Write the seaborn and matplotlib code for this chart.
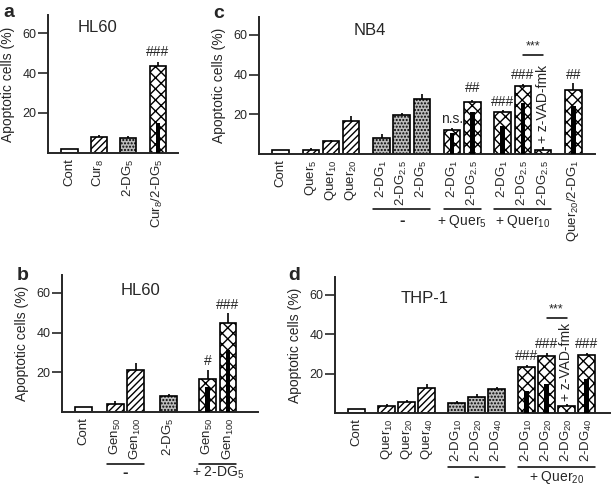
import matplotlib
matplotlib.use('Agg')
import matplotlib.pyplot as plt
import matplotlib.transforms as mtransforms
import seaborn as sns
import numpy as np
import pandas as pd

nan = np.nan

# ---- a: HL60, curcumin + 2-DG ----
a_labels = ['Cont', 'Cur$_8$', '2-DG$_5$', 'Cur$_8$/2-DG$_5$']
a_kind = ['cont', 'drug', 'dg', 'combo']
a_groups = [1, 1, 1, 1]
a_mean = [2.2, 8.0, 7.7, 43.3]
a_err = [0.0, 0.8, 1.0, 2.2]
a_inner = [nan, nan, nan, 15.0]
a_marks = [(3, '###', 50.5)]

# ---- b: HL60, genistein + 2-DG ----
b_labels = ['Cont', 'Gen$_{50}$', 'Gen$_{100}$', '2-DG$_5$', 'Gen$_{50}$', 'Gen$_{100}$']
b_kind = ['cont', 'drug', 'drug', 'dg', 'combo', 'combo']
b_groups = [1, 2, 1, 2]
b_mean = [2.3, 4.2, 21.3, 8.2, 16.6, 44.9]
b_err = [0.0, 1.2, 3.4, 1.0, 4.4, 5.0]
b_inner = [nan, nan, nan, nan, 12.4, 31.0]
b_marks = [(4, '#', 25.5), (5, '###', 54.0)]
b_under = [(1, 2, '-'), (4, 5, '+ 2-DG$_5$')]

# ---- c: NB4, quercetin + 2-DG ----
c_labels = ['Cont', 'Quer$_5$', 'Quer$_{10}$', 'Quer$_{20}$',
            '2-DG$_1$', '2-DG$_{2.5}$', '2-DG$_5$',
            '2-DG$_1$', '2-DG$_{2.5}$',
            '2-DG$_1$', '2-DG$_{2.5}$', '2-DG$_{2.5}$',
            'Quer$_{20}$/2-DG$_1$']
c_kind = ['cont', 'drug', 'drug', 'drug', 'dg', 'dg', 'dg',
          'combo', 'combo', 'combo', 'combo', 'combo', 'combo']
c_groups = [1, 3, 3, 2, 3, 1]
c_mean = [2.0, 2.0, 6.6, 16.4, 8.0, 19.5, 27.5, 12.2, 26.1, 21.2, 34.2, 2.2, 32.4]
c_err = [0.0, 1.0, 0.7, 2.6, 2.2, 1.3, 2.7, 1.0, 0.9, 1.0, 1.1, 1.2, 3.6]
c_inner = [nan, nan, nan, nan, nan, nan, nan, 10.7, 21.2, 14.0, 25.9, nan, 24.2]
c_marks = [(7, 'n.s.', 17.8), (8, '##', 33.0), (9, '###', 26.0), (10, '###', 40.0), (12, '##', 40.0)]
c_under = [(4, 6, '-'), (7, 8, '+ Quer$_5$'), (9, 11, '+ Quer$_{10}$')]
c_star = (10, 11, '***', 50.0)
c_zvad = 11

# ---- d: THP-1, quercetin + 2-DG ----
d_labels = ['Cont', 'Quer$_{10}$', 'Quer$_{20}$', 'Quer$_{40}$',
            '2-DG$_{10}$', '2-DG$_{20}$', '2-DG$_{40}$',
            '2-DG$_{10}$', '2-DG$_{20}$', '2-DG$_{20}$', '2-DG$_{40}$']
d_kind = ['cont', 'drug', 'drug', 'drug', 'dg', 'dg', 'dg',
          'combo', 'combo', 'combo', 'combo']
d_groups = [1, 3, 3, 4]
d_mean = [1.9, 3.4, 5.4, 12.6, 5.0, 7.9, 12.4, 23.2, 29.1, 3.7, 29.2]
d_err = [0.0, 1.0, 1.0, 1.9, 0.9, 1.7, 1.0, 1.0, 1.2, 1.0, 1.2]
d_inner = [nan, nan, nan, nan, nan, nan, nan, 11.4, 14.5, nan, 17.0]
d_marks = [(7, '###', 28.7), (8, '###', 34.8), (10, '###', 34.8)]
d_under = [(4, 6, '-'), (7, 10, '+ Quer$_{20}$')]
d_star = (8, 9, '***', 48.4)
d_zvad = 9

# ---- styles ----
FILL = {'cont': 'white', 'drug': 'white', 'dg': '#bdbdbd', 'combo': 'white'}
HATCH = {'cont': '', 'drug': '/////', 'dg': '.....', 'combo': 'xxx'}
BAR_W = 0.82
INNER_W = 0.22
W, H = 612, 487

sns.set_style('ticks')
plt.rcParams['font.family'] = ['Liberation Sans', 'DejaVu Sans']
plt.rcParams['mathtext.fontset'] = 'custom'
plt.rcParams['mathtext.rm'] = 'Liberation Sans'
plt.rcParams['mathtext.it'] = 'Liberation Sans:italic'
plt.rcParams['mathtext.bf'] = 'Liberation Sans:bold'
plt.rcParams['hatch.linewidth'] = 1.0


def bar_positions(groups, gaps):
    pos, x = [], 0.0
    for g, n in enumerate(groups):
        if g:
            x += gaps[g - 1]
        for _ in range(n):
            pos.append(x)
            x += 1
    return np.array(pos)


def native_w(pos):
    u = np.unique(pos)
    return np.min(np.diff(u)) if len(u) > 1 else 1.0


def make_axes(fig, left, right, base, top, c0, slot):
    ax = fig.add_axes([left / W, 1 - base / H, (right - left) / W, (base - top) / H])
    ax.set_xlim((left - c0) / slot, (right - c0) / slot)
    return ax


def draw_panel(ax, labels, kind, groups, mean, err, inner, gaps, title, title_xy):
    pos = bar_positions(groups, gaps)
    df = pd.DataFrame({'pos': pos, 'mean': mean})
    n0 = len(ax.patches)
    sns.barplot(data=df, x='pos', y='mean', native_scale=True,
                width=BAR_W / native_w(pos), color='white', edgecolor='black',
                linewidth=1.2, errorbar=None, ax=ax, zorder=2)
    for p, k in zip(ax.patches[n0:], kind):
        p.set_facecolor(FILL[k])
        p.set_hatch(HATCH[k])

    inner = np.array(inner)
    keep = ~np.isnan(inner)
    df_in = pd.DataFrame({'pos': pos[keep], 'val': inner[keep]})
    sns.barplot(data=df_in, x='pos', y='val', native_scale=True,
                width=INNER_W / native_w(pos[keep]), color='black',
                linewidth=0, errorbar=None, ax=ax, zorder=3)

    err = np.array(err)
    has = err > 0
    ax.errorbar(pos[has], np.array(mean)[has], yerr=[np.zeros(has.sum()), err[has]],
                fmt='none', ecolor='black', elinewidth=1.2, capsize=0, zorder=4)

    ax.set_ylim(0, 69)
    ax.set_yticks([20, 40, 60])
    ax.set_xticks(pos)
    ax.set_xticklabels(labels, rotation=90, va='top', ha='center', fontsize=9.5)
    ax.tick_params(axis='x', length=0, pad=4)
    ax.tick_params(axis='y', length=7, width=1.2, pad=1.5, labelsize=9)
    ax.set_xlabel('')
    ax.set_ylabel('Apoptotic cells (%)', fontsize=10)
    ax.yaxis.set_label_coords(-33 / (ax.get_position().width * W), 0.5)
    for s in ['top', 'right']:
        ax.spines[s].set_visible(False)
    for s in ['left', 'bottom']:
        ax.spines[s].set_linewidth(1.4)
    ax.text(title_xy[0], title_xy[1], title, ha='center', va='center', fontsize=12)
    return pos


def add_marks(ax, pos, marks):
    for i, t, y in marks:
        ax.text(pos[i], y, t, ha='center', va='center', fontsize=10)


def add_under(fig, ax, pos, under, line_px, text_px):
    half = BAR_W / 2
    for i, j, t in under:
        tl = mtransforms.offset_copy(ax.get_xaxis_transform(), fig=fig, y=-line_px, units='dots')
        ax.plot([pos[i] - half, pos[j] + half], [0, 0], color='black', lw=1.1,
                transform=tl, clip_on=False)
        tt = mtransforms.offset_copy(ax.get_xaxis_transform(), fig=fig, y=-text_px, units='dots')
        if t == '-':
            ax.text((pos[i] + pos[j]) / 2, 0, t, ha='center', va='center', fontsize=12,
                    fontweight='bold', transform=tt)
        else:
            ax.text((pos[i] + pos[j]) / 2, 0, t, ha='center', va='center', fontsize=10,
                    transform=tt)


def add_star(ax, pos, star, zvad, zvad_y):
    i, j, t, y = star
    ax.plot([pos[i], pos[j]], [y, y], color='black', lw=1.1, clip_on=False)
    ax.text((pos[i] + pos[j]) / 2, y + 1.0, t, ha='center', va='bottom', fontsize=9)
    ax.text(pos[zvad], zvad_y, '+ z-VAD-fmk', rotation=90, ha='center', va='bottom',
            fontsize=10)


fig = plt.figure(figsize=(W / 100, H / 100), dpi=100)

ax_a = make_axes(fig, 48, 178, 153, 15, 69.5, 19.6)
pa = draw_panel(ax_a, a_labels, a_kind, a_groups, a_mean, a_err, a_inner,
                [0.5] * 3, 'HL60', (1.45, 63))
add_marks(ax_a, pa, a_marks)

ax_b = make_axes(fig, 62, 258, 412, 275, 83.5, 20.5)
pb = draw_panel(ax_b, b_labels, b_kind, b_groups, b_mean, b_err, b_inner,
                [0.55, 0.6, 0.9], 'HL60', (2.76, 61))
add_marks(ax_b, pb, b_marks)
add_under(fig, ax_b, pb, b_under, 52, 61)

ax_c = make_axes(fig, 259, 595, 154, 17, 280.5, 20.2)
pc = draw_panel(ax_c, c_labels, c_kind, c_groups, c_mean, c_err, c_inner,
                [0.5] * 5, 'NB4', (4.43, 62))
add_marks(ax_c, pc, c_marks)
add_under(fig, ax_c, pc, c_under, 55, 67)
add_star(ax_c, pc, c_star, c_zvad, 5.5)

ax_d = make_axes(fig, 335, 610, 413, 277, 356.5, 20.0)
pd_ = draw_panel(ax_d, d_labels, d_kind, d_groups, d_mean, d_err, d_inner,
                 [0.5] * 3, 'THP-1', (3.4, 58))
add_marks(ax_d, pd_, d_marks)
add_under(fig, ax_d, pd_, d_under, 54, 64)
add_star(ax_d, pd_, d_star, d_zvad, 6.0)

for x, y, t in [(3, 17, 'a'), (213, 18, 'c'), (17, 280, 'b'), (288, 280, 'd')]:
    fig.text(x / W, 1 - y / H, t, fontsize=14, fontweight='bold', va='baseline')

fig.savefig('out.png', dpi=100)
